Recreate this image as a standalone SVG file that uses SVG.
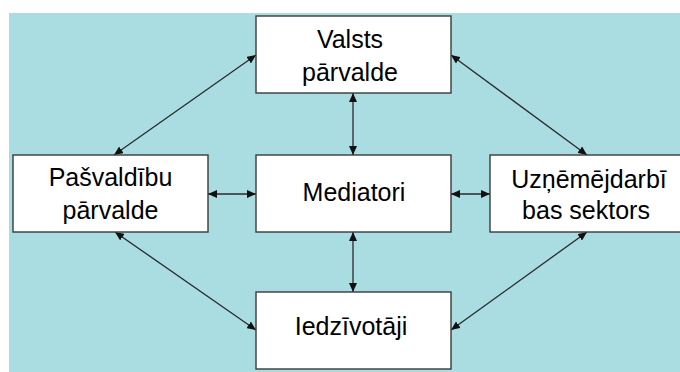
<svg xmlns="http://www.w3.org/2000/svg" width="680" height="372" viewBox="0 0 680 372">
<defs>
<marker id="ah" markerWidth="9" markerHeight="8" refX="9" refY="4" orient="auto-start-reverse" markerUnits="userSpaceOnUse">
<path d="M0,0 L9,4 L0,8 Z" fill="#111"/>
</marker>
<style>
.box{fill:#fff;stroke:#3a3a3a;stroke-width:1.4}
.t{font-family:"Liberation Sans",Arial,sans-serif;font-size:25px;fill:#000;text-anchor:middle}
.c{stroke:#2a2a2a;stroke-width:1.3;fill:none;marker-start:url(#ah);marker-end:url(#ah)}
</style>
</defs>
<rect x="0" y="0" width="680" height="372" fill="#fff"/>
<rect x="9" y="13" width="671" height="359" fill="#a9dde1"/>
<g id="connectors">
<line class="c" x1="114" y1="155" x2="256" y2="55"/>
<line class="c" x1="451" y1="55" x2="587" y2="155"/>
<line class="c" x1="115" y1="232" x2="256" y2="330"/>
<line class="c" x1="587" y1="232" x2="451" y2="330"/>
<line class="c" x1="353" y1="93" x2="353" y2="155"/>
<line class="c" x1="353" y1="232" x2="353" y2="292"/>
<line class="c" x1="208" y1="194" x2="256" y2="194"/>
<line class="c" x1="451" y1="194" x2="490" y2="194"/>
</g>
<g id="valsts">
<rect class="box" x="256" y="16" width="195" height="77"/>
<text class="t" x="350" y="48">Valsts</text>
<text class="t" x="350" y="81">pārvalde</text>
</g>
<g id="pasvaldibu">
<rect class="box" x="13" y="155" width="195" height="77"/>
<text class="t" x="110.5" y="186">Pašvaldību</text>
<text class="t" x="110.5" y="218.5">pārvalde</text>
</g>
<g id="mediatori">
<rect class="box" x="256" y="155" width="195" height="77"/>
<text class="t" x="354" y="201">Mediatori</text>
</g>
<g id="uznemejdarbibas">
<rect class="box" x="490" y="155" width="196" height="77"/>
<text class="t" x="589" y="188">Uzņēmējdarbī</text>
<text class="t" x="586" y="219">bas sektors</text>
</g>
<g id="iedzivotaji">
<rect class="box" x="256" y="292" width="195" height="77"/>
<text class="t" x="351" y="335">Iedzīvotāji</text>
</g>
</svg>
